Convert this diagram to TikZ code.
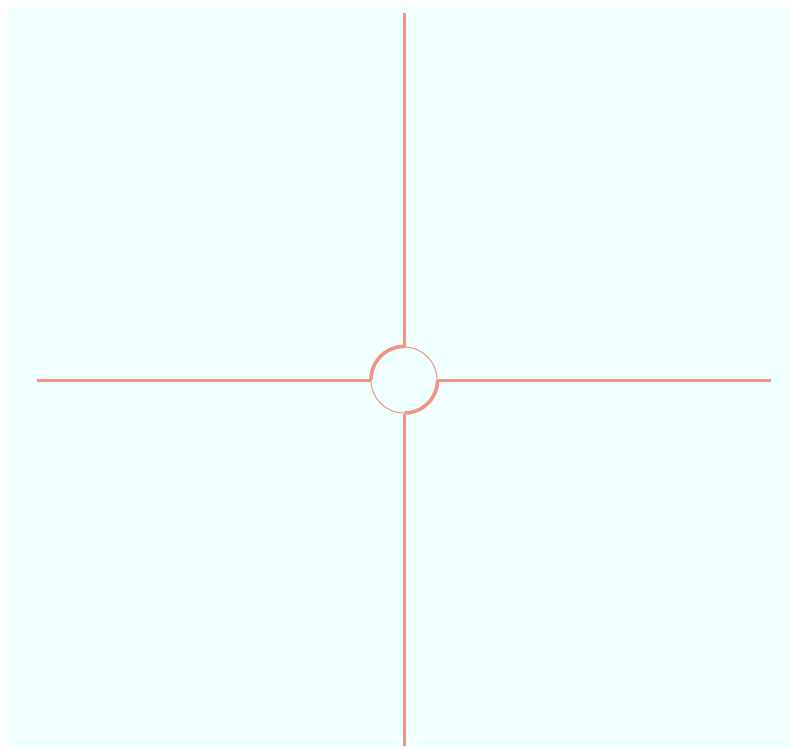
\documentclass[tikz,border=0pt]{standalone}
\usepackage{xcolor}
\usepackage{tikz}
\usetikzlibrary{positioning,calc}

\definecolor{salmonline}{RGB}{238,150,128}
\definecolor{azureback}{RGB}{240,255,255}

\begin{document}
\begin{tikzpicture}[x=1pt,y=-1pt,
    wire/.style={salmonline,line width=3pt},
    hub/.style={circle,draw=salmonline,line width=1pt,minimum size=66pt,inner sep=0pt}]
                \useasboundingbox (0,0) rectangle (790,749);
                \fill[azureback] (7,7) rectangle (790,748);
                \node[hub] (hub) at (404,380) {};
                % thick quarters of the ring
                \draw[salmonline,line width=3.6pt] (hub.north) arc[start angle=90,end angle=180,radius=33pt];
                \draw[salmonline,line width=3.6pt] (hub.east) arc[start angle=0,end angle=-90,radius=33pt];
                \coordinate (top) at (404,13);
                \coordinate (bottom) at (404,746);
                \coordinate (left) at (37,380);
                \coordinate (right) at (771,380);
                \draw[wire] (hub.north) -- (top);
                \draw[wire] (hub.south) -- (bottom);
                \draw[wire] (hub.west) -- (left);
                \draw[wire] (hub.east) -- (right);
            \end{tikzpicture}
\end{document}
